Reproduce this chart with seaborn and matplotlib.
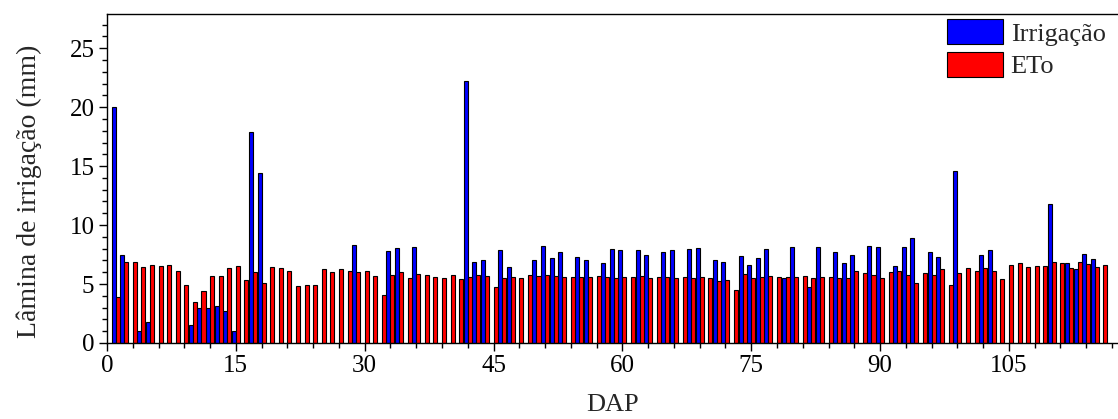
import matplotlib
matplotlib.use("Agg")
import matplotlib.pyplot as plt
from matplotlib.ticker import MultipleLocator, FormatStrFormatter
import pandas as pd
import seaborn as sns

# Daily irrigation depth (mm) on the days water was applied
irrig_days = [1, 2, 4, 5, 10, 11, 12, 13, 14, 15, 17, 18, 29, 33, 34, 36,
              42, 43, 44, 46, 47, 50, 51, 52, 53, 55, 56, 58, 59, 60, 62, 63,
              65, 66, 68, 69, 71, 72, 74, 75, 76, 77, 79, 80, 82, 83, 85, 86,
              87, 89, 90, 92, 93, 94, 96, 97, 99, 102, 103, 110, 112, 113,
              114, 115]
irrig_mm = [20.0, 7.5, 1.05, 1.8, 1.5, 3.0, 3.0, 3.1, 2.7, 1.05, 17.9, 14.45,
            8.33, 7.82, 8.02, 8.16, 22.2, 6.9, 7.0, 7.85, 6.47, 7.0, 8.25,
            7.2, 7.74, 7.32, 7.0, 6.75, 7.94, 7.85, 7.85, 7.5, 7.74, 7.85,
            7.94, 8.05, 7.0, 6.86, 7.4, 6.64, 7.2, 7.94, 5.48, 8.16, 4.75,
            8.16, 7.74, 6.78, 7.5, 8.25, 8.16, 6.55, 8.16, 8.9, 7.74, 7.32,
            14.6, 7.5, 7.85, 11.75, 6.8, 6.26, 7.55, 7.12]

# Reference evapotranspiration (mm/day), days 1..116
eto_days = list(range(1, 117))
eto_mm = [3.9, 6.86, 6.9, 6.47, 6.64, 6.55, 6.64, 6.13, 4.9, 3.5,
          4.43, 5.68, 5.68, 6.33, 6.5, 5.37, 6.0, 5.06, 6.44, 6.33,
          6.13, 4.83, 4.92, 4.92, 6.24, 6.02, 6.24, 6.13, 6.02, 6.13,
          5.68, 4.1, 5.76, 6.0, 5.48, 5.88, 5.79, 5.59, 5.48, 5.79,
          5.4, 5.59, 5.79, 5.68, 4.75, 5.48, 5.59, 5.48, 5.79, 5.68,
          5.79, 5.68, 5.59, 5.59, 5.59, 5.59, 5.68, 5.59, 5.48, 5.59,
          5.59, 5.68, 5.48, 5.59, 5.59, 5.48, 5.59, 5.48, 5.59, 5.48,
          5.28, 5.34, 4.49, 5.88, 5.48, 5.59, 5.68, 5.59, 5.59, 5.59,
          5.68, 5.48, 5.59, 5.59, 5.48, 5.48, 6.13, 5.9, 5.79, 5.48,
          6.02, 6.1, 5.79, 5.06, 5.9, 5.79, 6.24, 4.94, 5.9, 6.33,
          6.13, 6.33, 6.13, 5.4, 6.64, 6.75, 6.44, 6.55, 6.55, 6.86,
          6.8, 6.37, 6.9, 6.67, 6.48, 6.58]

series_names = ["Irrigação", "ETo"]
series_colors = ["#0000FF", "#FF0000"]

df = pd.concat([
    pd.DataFrame({"DAP": irrig_days, "mm": irrig_mm, "serie": series_names[0]}),
    pd.DataFrame({"DAP": eto_days, "mm": eto_mm, "serie": series_names[1]}),
], ignore_index=True)

sns.set_theme(style="ticks")
plt.rcParams["font.family"] = ["Liberation Serif", "DejaVu Serif"]
plt.rcParams["mathtext.fontset"] = "stix"

fig = plt.figure(figsize=(11.18, 4.19), dpi=100)
ax = fig.add_axes([0.0957, 0.1814, 0.9043, 0.7852])

sns.barplot(data=df, x="DAP", y="mm", hue="serie", hue_order=series_names,
            palette=series_colors, native_scale=True, dodge=True,
            width=0.94, errorbar=None, edgecolor="black", linewidth=0.8,
            saturation=1.0, ax=ax)

ax.set_xlim(0, 117.7)
ax.set_ylim(0, 27.9)
ax.xaxis.set_major_locator(MultipleLocator(15))
ax.xaxis.set_minor_locator(MultipleLocator(3))
ax.yaxis.set_major_locator(MultipleLocator(5))
ax.yaxis.set_minor_locator(MultipleLocator(1))
ax.xaxis.set_major_formatter(FormatStrFormatter("%d"))

for side in ["left", "bottom", "top"]:
    ax.spines[side].set_color("black")
    ax.spines[side].set_linewidth(1.0)
ax.spines["right"].set_visible(False)

ax.tick_params(axis="both", which="major", direction="out", length=6,
               width=1.0, labelsize=18, colors="black", pad=3)
ax.tick_params(axis="both", which="minor", direction="out", length=3.5,
               width=1.0, colors="black")

ax.set_xlabel("DAP", fontsize=19, labelpad=12)
ax.set_ylabel("Lâmina de irrigação (mm)", fontsize=20, labelpad=20)
ax.yaxis.label.set_y(0.46)

handles, labels = ax.get_legend_handles_labels()
ax.legend(handles, labels, loc="upper right", frameon=False, fontsize=19,
          handlelength=2.1, handleheight=1.05, labelspacing=0.25,
          handletextpad=0.3, borderaxespad=0.0, borderpad=0.2,
          bbox_to_anchor=(0.993, 1.0))

fig.savefig("out.png", dpi=100)
